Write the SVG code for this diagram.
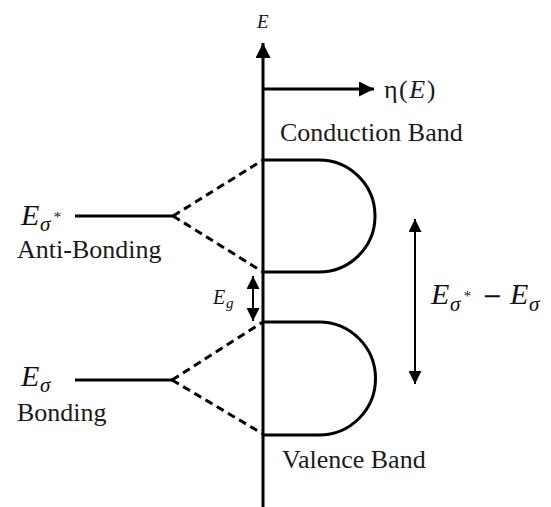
<svg xmlns="http://www.w3.org/2000/svg" width="551" height="507" viewBox="0 0 551 507">
<style>
.ln{stroke:#000;stroke-width:3;fill:none}
.dash{stroke:#000;stroke-width:3;fill:none;stroke-dasharray:8 5}
.thin{stroke:#000;stroke-width:2;fill:none}
.t{font-family:"Liberation Serif","Times New Roman",serif;font-size:26px;fill:#1a1a1a}
.m{font-family:"Liberation Serif","Times New Roman",serif;font-style:italic;fill:#111}
</style>
<defs>
<marker id="ah" viewBox="0 0 10 10" refX="10" refY="5" markerWidth="5" markerHeight="5" orient="auto-start-reverse" markerUnits="strokeWidth">
<path d="M0,0 L10,5 L0,10 Z" fill="#000"/>
</marker>
<marker id="ah2" viewBox="0 0 10 10" refX="10" refY="5" markerWidth="6.5" markerHeight="6.5" orient="auto-start-reverse" markerUnits="strokeWidth">
<path d="M0,0 L10,5 L0,10 Z" fill="#000"/>
</marker>
</defs>
<rect width="551" height="507" fill="#fff"/>
<g id="connectors">
<line class="ln" x1="263" y1="507" x2="263" y2="43" marker-end="url(#ah)"/>
<line class="ln" x1="263" y1="89" x2="374" y2="89" marker-end="url(#ah)"/>
<line class="dash" x1="173" y1="216" x2="263" y2="160"/>
<line class="dash" x1="173" y1="216" x2="263" y2="272"/>
<line class="dash" x1="172" y1="380" x2="263" y2="322"/>
<line class="dash" x1="172" y1="380" x2="263" y2="434"/>
<line class="thin" x1="253" y1="276" x2="253" y2="321" marker-start="url(#ah2)" marker-end="url(#ah2)"/>
<line class="thin" x1="415" y1="219" x2="415" y2="384" marker-start="url(#ah2)" marker-end="url(#ah2)"/>
</g>
<g id="antibonding">
<line class="ln" x1="75" y1="216" x2="173" y2="216"/>
<text class="m" x="21" y="225" font-size="30">E</text>
<text class="m" x="40" y="231" font-size="21">σ</text>
<text class="m" x="53" y="222" font-size="15">*</text>
<text class="t" x="17" y="258">Anti-Bonding</text>
</g>
<g id="bonding">
<line class="ln" x1="75" y1="380" x2="172" y2="380"/>
<text class="m" x="21" y="386" font-size="30">E</text>
<text class="m" x="40" y="392" font-size="21">σ</text>
<text class="t" x="17" y="421">Bonding</text>
</g>
<g id="conduction-band">
<path class="ln" d="M263,160 H319 A56,56 0 0 1 319,272 H263"/>
<text class="t" x="280" y="141">Conduction Band</text>
</g>
<g id="valence-band">
<path class="ln" d="M263,322 H319 A56.5,56.5 0 0 1 319,435 H263"/>
<text class="t" x="282" y="468">Valence Band</text>
</g>
<g id="axis-labels">
<text class="m" x="257" y="28" font-size="19">E</text>
<text class="t" x="384" y="98" font-size="28" letter-spacing="1.5">η(<tspan font-style="italic">E</tspan>)</text>
</g>
<g id="gap-label">
<text class="m" x="213" y="304" font-size="20">E</text>
<text class="m" x="226" y="308" font-size="15">g</text>
</g>
<g id="difference-label">
<text class="m" x="431" y="304" font-size="30">E</text>
<text class="m" x="450" y="311" font-size="21">σ</text>
<text class="m" x="463" y="301" font-size="15">*</text>
<text font-family="DejaVu Sans,sans-serif" font-size="24" fill="#111" x="482" y="304">−</text>
<text class="m" x="510" y="304" font-size="30">E</text>
<text class="m" x="529" y="311" font-size="21">σ</text>
</g>
</svg>
